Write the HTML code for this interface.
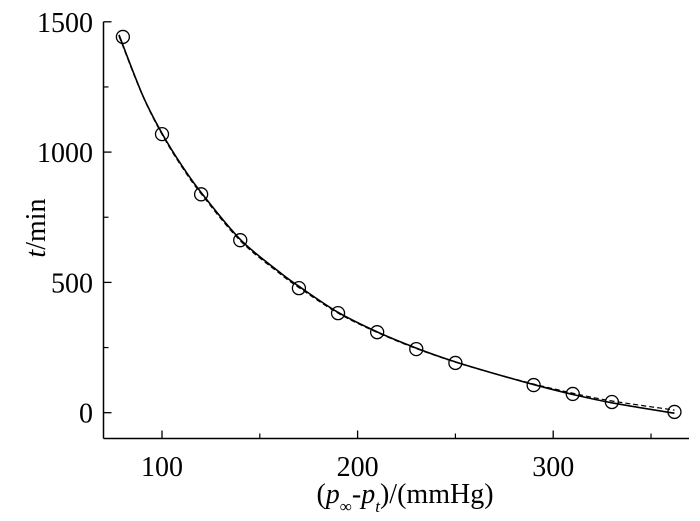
<!DOCTYPE html>
<html><head><meta charset="utf-8"><style>
html,body{margin:0;padding:0;background:#fff;}
svg{display:block;font-family:"Liberation Serif",serif;}
</style></head><body>
<svg id="chart" width="700" height="521" viewBox="0 0 700 521">
<g id="axes"></g><g id="marks"></g>
<text x="45" y="228" font-size="28" text-anchor="middle" transform="rotate(-90 45 228)"><tspan font-style="italic">t</tspan>/min</text>
<text x="405" y="503" font-size="28" text-anchor="middle">(<tspan font-style="italic">p</tspan><tspan font-size="17" dy="9">∞</tspan><tspan dy="-9">-</tspan><tspan font-style="italic">p</tspan><tspan font-size="17" font-style="italic" dy="9">t</tspan><tspan dy="-9">)/(mmHg)</tspan></text>
</svg>
<script>
const xTicks=[100,200,300];
const xMinor=[150,250,350];
const yTicks=[0,500,1000,1500];
const yMinor=[250,750,1250];
const pressures=[80,100,120,140,170,190,210,230,250,290,310,330,362];
const times=[1442,1069,838,662,478,382,309,244,191,106,72,41,3];
const fitX=[78,90,100,110,120,140,160,170,190,210,230,250,270,290,310,330,362];
const fitSolid=[1450,1220,1072,950,845,665,540,485,385,310,248,195,150,108,70,38,-2];
const fitDashed=[1445,1218,1068,945,840,660,535,480,382,308,246,194,150,110,75,45,10];
const X=v=>162+(v-100)*1.956, Y=v=>412.7-v*0.2606;
const NS="http://www.w3.org/2000/svg";
function mk(t,a,p){const e=document.createElementNS(NS,t);for(const k in a)e.setAttribute(k,a[k]);p.appendChild(e);return e;}
const ax=document.getElementById('axes'),mg=document.getElementById('marks');
const L=103.5,R=689,B=438.5,T=21.7;
let e=mk('line',{x1:L,y1:B,x2:R,y2:B,stroke:'#000','stroke-width':1.5},ax);

e=mk('line',{x1:L,y1:B,x2:L,y2:T,stroke:'#000','stroke-width':1.5},ax);

xTicks.forEach(v=>{mk('line',{x1:X(v),y1:B,x2:X(v),y2:B-8,stroke:'#000','stroke-width':1.3},ax);
 const t=mk('text',{x:X(v),y:476,'font-size':28,'text-anchor':'middle'},ax);t.textContent=v;
 });
xMinor.forEach(v=>mk('line',{x1:X(v),y1:B,x2:X(v),y2:B-5,stroke:'#000','stroke-width':1.2},ax));
yTicks.forEach(v=>{mk('line',{x1:L,y1:Y(v),x2:L+8,y2:Y(v),stroke:'#000','stroke-width':1.3},ax);
 const t=mk('text',{x:93,y:Y(v)+10,'font-size':28,'text-anchor':'end'},ax);t.textContent=v;
 });
yMinor.forEach(v=>mk('line',{x1:L,y1:Y(v),x2:L+5,y2:Y(v),stroke:'#000','stroke-width':1.2},ax));
function smooth(xs,ys){const p=xs.map((x,i)=>[X(x),Y(ys[i])]);let d='M'+p[0];
 for(let i=0;i<p.length-1;i++){const p0=p[i-1]||p[i],p1=p[i],p2=p[i+1],p3=p[i+2]||p2;
 d+=' C'+(p1[0]+(p2[0]-p0[0])/6)+','+(p1[1]+(p2[1]-p0[1])/6)+' '+(p2[0]-(p3[0]-p1[0])/6)+','+(p2[1]-(p3[1]-p1[1])/6)+' '+p2;}return d;}
e=mk('path',{d:smooth(fitX,fitDashed),fill:'none',stroke:'#000','stroke-width':1.2,'stroke-dasharray':'5,3'},mg);

e=mk('path',{d:smooth(fitX,fitSolid),fill:'none',stroke:'#000','stroke-width':1.6},mg);

pressures.forEach((p,i)=>{const c=mk('circle',{cx:X(p),cy:Y(times[i]),r:6.5,fill:'none',stroke:'#000','stroke-width':1.3},mg);
 });
</script>
</body></html>
